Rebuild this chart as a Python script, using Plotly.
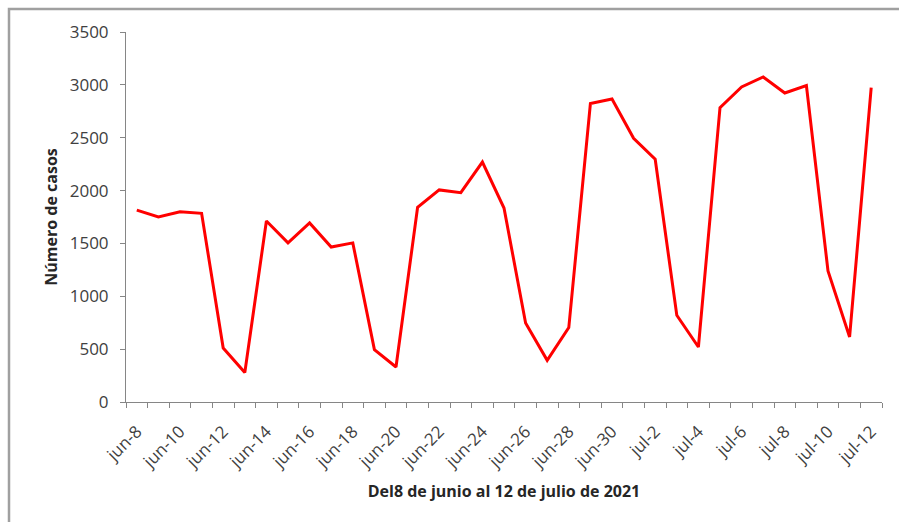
import plotly.graph_objects as go

dates = ["jun-8", "jun-9", "jun-10", "jun-11", "jun-12", "jun-13", "jun-14", "jun-15",
         "jun-16", "jun-17", "jun-18", "jun-19", "jun-20", "jun-21", "jun-22", "jun-23",
         "jun-24", "jun-25", "jun-26", "jun-27", "jun-28", "jun-29", "jun-30", "jul-1",
         "jul-2", "jul-3", "jul-4", "jul-5", "jul-6", "jul-7", "jul-8", "jul-9",
         "jul-10", "jul-11", "jul-12"]
casos = [1815, 1750, 1800, 1785, 510, 278, 1712, 1505, 1694, 1466, 1505, 496, 331, 1842,
         2006, 1980, 2270, 1835, 747, 394, 704, 2823, 2866, 2495, 2296, 820, 520, 2785,
         2980, 3075, 2923, 2993, 1240, 615, 2974]
tick_text = [d if i % 2 == 0 else "" for i, d in enumerate(dates)]

FONT = "Open Sans, sans-serif"
W, H = 899, 522
L, R, T, B = 126, 17, 32, 120
pw, ph = W - L - R, H - T - B

fig = go.Figure()
fig.add_trace(go.Scatter(x=dates, y=casos, mode="lines",
                         line=dict(color="#ff0000", width=3), showlegend=False))

fig.update_layout(
    width=W, height=H,
    margin=dict(l=L, r=R, t=T, b=B),
    paper_bgcolor="white", plot_bgcolor="white",
    font=dict(family=FONT, color="#404040", size=15),
    xaxis=dict(
        type="category", tickvals=dates, ticktext=tick_text, tickangle=-45,
        tickson="boundaries", ticks="outside", ticklen=5, tickcolor="#868686",
        showline=True, linecolor="#868686", linewidth=1, showgrid=False,
        tickfont=dict(size=17, color="#404040"), ticklabelstandoff=12,
        title=dict(text="<b>Del8 de junio al 12 de julio de 2021</b>",
                   font=dict(size=16, color="#262626"), standoff=14),
        range=[-0.5, len(dates) - 0.5],
    ),
    yaxis=dict(
        range=[0, 3500], dtick=500, ticks="outside", ticklen=5, tickcolor="#868686",
        showline=True, linecolor="#868686", linewidth=1, showgrid=False, zeroline=False,
        tickfont=dict(size=17, color="#404040"), ticklabelstandoff=8,
        title=dict(text="<b>Número de casos</b>", font=dict(size=16, color="#262626"),
                   standoff=8),
    ),
    shapes=[dict(type="rect", xref="paper", yref="paper",
                 x0=(9 - L) / pw, x1=(915 - L) / pw,
                 y0=(ph + T - 540) / ph, y1=(ph + T - 9) / ph,
                 line=dict(color="#a0a0a0", width=2.5), fillcolor="rgba(0,0,0,0)",
                 layer="below")],
)

fig.write_html(
    "out.html",
    config={"displayModeBar": False},
    post_script="document.body.style.margin='0';document.body.style.overflow='hidden';",
)
